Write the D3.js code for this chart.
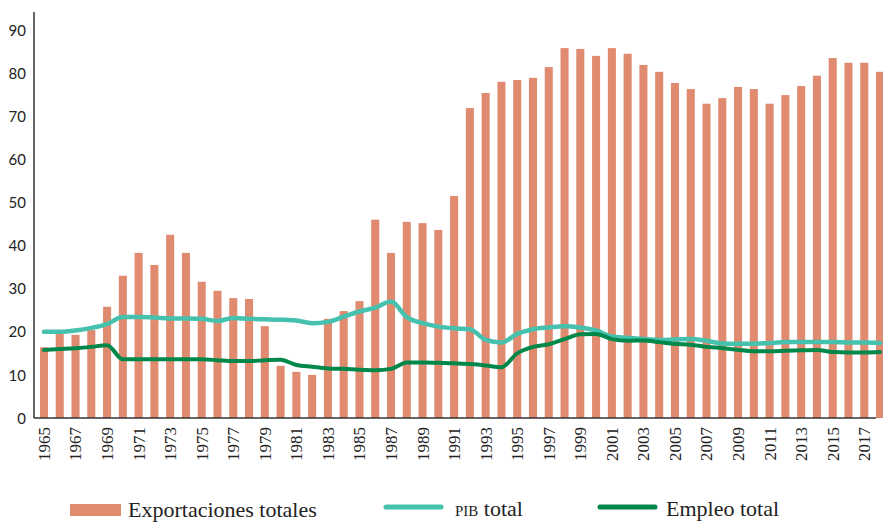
<!DOCTYPE html>
<html>
<head>
<meta charset="utf-8">
<script src="https://cdn.jsdelivr.net/npm/d3@7"></script>
<style>
  body { margin: 0; background: #fff; }
  .ylab { font-family: "Lato", "DejaVu Sans", sans-serif; font-size: 15px; fill: #222; }
  .xlab { font-family: "Liberation Serif", serif; font-size: 17px; fill: #222; }
  .leg { font-family: "Liberation Serif", serif; font-size: 22px; fill: #222; }
</style>
</head>
<body>
<script>
let years = d3.range(1965, 2019);

let exportaciones = [16.4, 19.5, 19.3, 20.4, 25.8, 33.0, 38.3, 35.5, 42.5, 38.3,
                     31.6, 29.5, 27.8, 27.6, 21.3, 12.1, 10.7, 10.0, 23.0, 24.8,
                     27.1, 46.0, 38.3, 45.5, 45.2, 43.6, 51.5, 71.9, 75.4, 78.0,
                     78.4, 78.9, 81.4, 85.8, 85.6, 84.0, 85.8, 84.5, 81.9, 80.3,
                     77.7, 76.3, 72.9, 74.2, 76.8, 76.3, 72.9, 74.9, 77.0, 79.4,
                     83.5, 82.4, 82.4, 80.3];

let pib = [20.0, 20.0, 20.3, 20.9, 21.8, 23.4, 23.4, 23.3, 23.1, 23.1,
           23.0, 22.5, 23.2, 23.0, 22.9, 22.8, 22.6, 22.0, 22.3, 23.5,
           24.7, 25.6, 27.0, 23.4, 22.0, 21.2, 20.8, 20.6, 18.1, 17.5,
           19.5, 20.6, 21.0, 21.3, 21.0, 20.3, 18.9, 18.6, 18.3, 18.1,
           18.2, 18.3, 17.9, 17.3, 17.2, 17.2, 17.4, 17.6, 17.6, 17.6,
           17.6, 17.5, 17.5, 17.4];

let empleo = [15.8, 16.0, 16.2, 16.5, 16.9, 13.6, 13.6, 13.6, 13.6, 13.6,
              13.6, 13.4, 13.2, 13.2, 13.4, 13.5, 12.3, 11.9, 11.5, 11.4,
              11.2, 11.1, 11.4, 12.9, 12.9, 12.8, 12.7, 12.5, 12.2, 11.8,
              15.0, 16.5, 17.1, 18.3, 19.4, 19.5, 18.3, 17.9, 18.0, 17.6,
              17.2, 17.0, 16.5, 16.2, 15.8, 15.5, 15.5, 15.6, 15.7, 15.8,
              15.3, 15.2, 15.2, 15.3];

let yTicks = [0, 10, 20, 30, 40, 50, 60, 70, 80, 90];

let svgWidth = 883,
    svgHeight = 523,
    margin = { top: 12, left: 34 },
    plotRight = 888,
    plotBottom = 418,
    yTop = 30;

let svg = d3.select("body").append("svg")
    .attr("width", svgWidth)
    .attr("height", svgHeight);

let x = d3.scaleBand()
    .domain(years)
    .range([36, plotRight])
    .paddingInner(0.49)
    .paddingOuter(0.25);

let y = d3.scaleLinear()
    .domain([0, 90])
    .range([plotBottom, yTop]);

// bars
svg.append("g")
    .selectAll("rect")
    .data(years)
    .join("rect")
    .attr("x", (d) => x(d))
    .attr("y", (d, i) => y(exportaciones[i]))
    .attr("width", x.bandwidth())
    .attr("height", (d, i) => y(0) - y(exportaciones[i]))
    .attr("fill", "#e08a70");

// axes lines
svg.append("line")
    .attr("x1", margin.left).attr("x2", margin.left)
    .attr("y1", margin.top).attr("y2", plotBottom)
    .attr("stroke", "#333").attr("stroke-width", 1.5);
svg.append("line")
    .attr("x1", margin.left).attr("x2", 876)
    .attr("y1", plotBottom).attr("y2", plotBottom)
    .attr("stroke", "#333").attr("stroke-width", 1.5);

// y labels
svg.append("g")
    .selectAll("text")
    .data(yTicks)
    .join("text")
    .attr("class", "ylab")
    .attr("x", 26)
    .attr("y", (d) => y(d))
    .attr("dy", "0.38em")
    .attr("text-anchor", "end")
    .text((d) => d);

// x labels (odd years)
let cx = (d) => x(d) + x.bandwidth() / 2;
svg.append("g")
    .selectAll("text")
    .data(years.filter((d) => d % 2 === 1))
    .join("text")
    .attr("class", "xlab")
    .attr("transform", (d) => "translate(" + cx(d) + "," + (plotBottom + 9) + ") rotate(-90)")
    .attr("dy", "0.35em")
    .attr("text-anchor", "end")
    .text((d) => d);

// lines
function drawLine(values, color, width) {
    let line = d3.line()
        .x((d, i) => cx(years[i]))
        .y((d) => y(d))
        .curve(d3.curveMonotoneX);
    svg.append("path")
        .datum(values)
        .attr("d", line)
        .attr("fill", "none")
        .attr("stroke", color)
        .attr("stroke-width", width)
        .attr("stroke-linejoin", "round")
        .attr("stroke-linecap", "round");
}

drawLine(pib, "#45c1ad", 4.5);
drawLine(empleo, "#00874a", 4);

// legend
let leg = svg.append("g");
leg.append("rect")
    .attr("x", 70).attr("y", 504)
    .attr("width", 51).attr("height", 12)
    .attr("fill", "#e08a70");
leg.append("text")
    .attr("class", "leg")
    .attr("x", 128).attr("y", 517)
    .text("Exportaciones totales");

leg.append("line")
    .attr("x1", 386).attr("x2", 441)
    .attr("y1", 507).attr("y2", 507)
    .attr("stroke", "#45c1ad").attr("stroke-width", 5)
    .attr("stroke-linecap", "round");
let pibText = leg.append("text")
    .attr("class", "leg")
    .attr("x", 455).attr("y", 516);
pibText.append("tspan")
    .style("font-variant", "small-caps")
    .text("pib");
pibText.append("tspan").text(" total");

leg.append("line")
    .attr("x1", 600).attr("x2", 655)
    .attr("y1", 507).attr("y2", 507)
    .attr("stroke", "#00874a").attr("stroke-width", 5)
    .attr("stroke-linecap", "round");
leg.append("text")
    .attr("class", "leg")
    .attr("x", 666).attr("y", 516)
    .text("Empleo total");
</script>
</body>
</html>
